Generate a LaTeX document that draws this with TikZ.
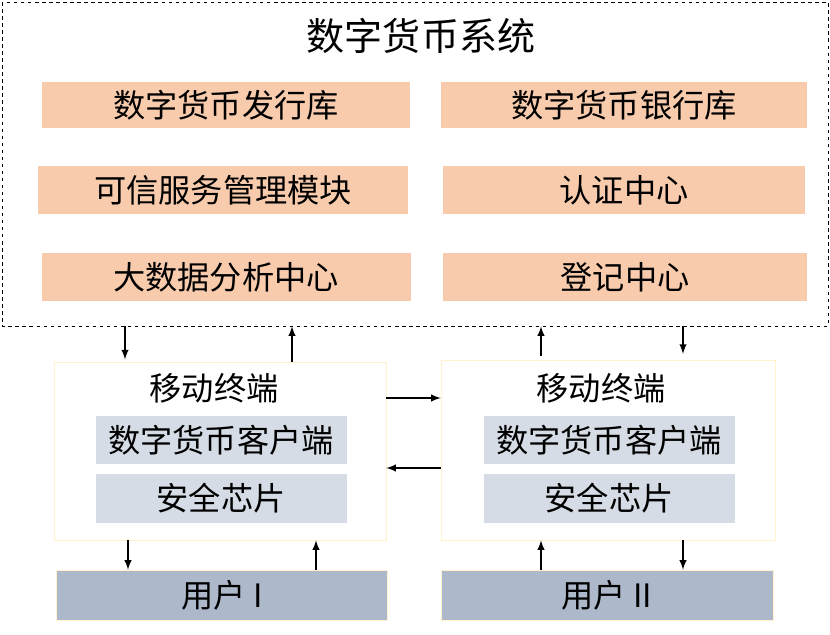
\documentclass[tikz,border=0pt]{standalone}
\usepackage{fontspec}
\setmainfont{Noto Sans CJK SC}
\usetikzlibrary{positioning}
\definecolor{orangefill}{HTML}{F8CBAD}
\definecolor{clientfill}{HTML}{D6DCE5}
\definecolor{userfill}{HTML}{ADB9CA}
\definecolor{termline}{HTML}{FFF2CC}
\tikzset{
  obox/.style={fill=orangefill, inner sep=0pt, font=\fontsize{27.5}{30}\selectfont},
  cbox/.style={fill=clientfill, inner sep=0pt, font=\fontsize{27.5}{30}\selectfont},
  ubox/.style={fill=userfill, draw=termline, inner sep=0pt, font=\fontsize{27.5}{30}\selectfont},
  tbox/.style={draw=termline, inner sep=0pt},
  arr/.style={->, >=latex, line width=1.8pt},
}
\begin{document}
\begin{tikzpicture}[x=0.03cm,y=-0.03cm]
  \useasboundingbox (0,0) rectangle (830,634);
  % system
  \draw[dashed, line width=0.5pt] (2,2) rectangle (828,326);
  \node (sys) at (415,164) [minimum width=826*0.03cm, minimum height=324*0.03cm, inner sep=0pt] {};
  \node (title) at (421,36) {\fontsize{32.5}{35}\selectfont 数字货币系统};

  \node[obox, minimum width=368*0.03cm, minimum height=46*0.03cm] (issue) at (226,105) {数字货币发行库};
  \node[obox, minimum width=366*0.03cm, minimum height=46*0.03cm] (bank) at (624,105) {数字货币银行库};
  \node[obox, minimum width=370*0.03cm, minimum height=48*0.03cm] (tsm) at (223,190) {可信服务管理模块};
  \node[obox, minimum width=362*0.03cm, minimum height=48*0.03cm] (auth) at (624,190) {认证中心};
  \node[obox, minimum width=369*0.03cm, minimum height=48*0.03cm] (data) at (226,277) {大数据分析中心};
  \node[obox, minimum width=364*0.03cm, minimum height=48*0.03cm] (reg) at (625,277) {登记中心};

  % terminals
  \node[tbox, minimum width=332*0.03cm, minimum height=178*0.03cm] (termL) at (220,451) {};
  \node[tbox, minimum width=334*0.03cm, minimum height=180*0.03cm] (termR) at (608,450) {};
  \node[font=\fontsize{27.5}{30}\selectfont] at (214,388) {移动终端};
  \node[font=\fontsize{27.5}{30}\selectfont] at (601,388) {移动终端};
  \node[cbox, minimum width=251*0.03cm, minimum height=48*0.03cm] (clientL) at (221,440) {数字货币客户端};
  \node[cbox, minimum width=251*0.03cm, minimum height=49*0.03cm] (chipL) at (221,498) {安全芯片};
  \node[cbox, minimum width=251*0.03cm, minimum height=48*0.03cm] (clientR) at (609,440) {数字货币客户端};
  \node[cbox, minimum width=251*0.03cm, minimum height=49*0.03cm] (chipR) at (609,498) {安全芯片};

  % users
  \node[ubox, minimum width=331*0.03cm, minimum height=50*0.03cm] (userL) at (222,595) {用户 I};
  \node[ubox, minimum width=332*0.03cm, minimum height=50*0.03cm] (userR) at (607,595) {用户 II};

  % arrows
  \coordinate (a1) at (125,0);
  \coordinate (a2) at (292,0);
  \coordinate (a3) at (541,0);
  \coordinate (a4) at (683,0);
  \coordinate (b1) at (128,0);
  \coordinate (b2) at (316,0);
  \coordinate (h1) at (0,398);
  \coordinate (h2) at (0,468);
  \draw[arr] (sys.south -| a1) -- ([yshift=2]termL.north -| a1);
  \draw[arr] (termL.north -| a2) -- (sys.south -| a2);
  \draw[arr] ([yshift=3]termR.north -| a3) -- (sys.south -| a3);
  \draw[arr] (sys.south -| a4) -- ([yshift=5]termR.north -| a4);
  \draw[arr] (termL.east |- h1) -- (termR.west |- h1);
  \draw[arr] (termR.west |- h2) -- (termL.east |- h2);
  \draw[arr] (termL.south -| b1) -- (userL.north -| b1);
  \draw[arr] (userL.north -| b2) -- (termL.south -| b2);
  \draw[arr] (userR.north -| a3) -- (termR.south -| a3);
  \draw[arr] (termR.south -| a4) -- (userR.north -| a4);
\end{tikzpicture}
\end{document}
